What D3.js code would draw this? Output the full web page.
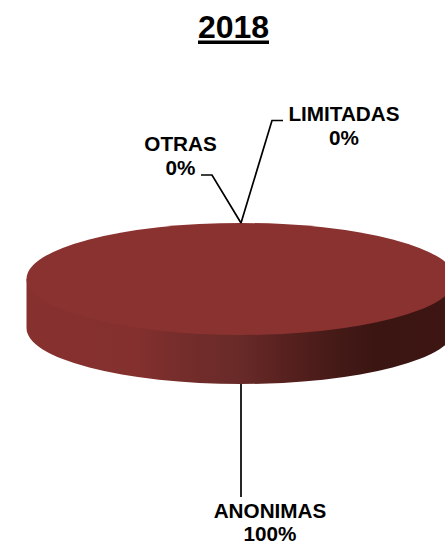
<!DOCTYPE html>
<html>
<head>
<meta charset="utf-8">
<script src="https://cdnjs.cloudflare.com/ajax/libs/d3/7.8.5/d3.min.js"></script>
<style>
  html, body { margin: 0; padding: 0; background: #fff; overflow: hidden; }
  text { font-family: "Liberation Sans", Arial, sans-serif; font-weight: bold; fill: #000; text-anchor: middle; }
  .leader { fill: none; stroke: #000; stroke-width: 1.7; }
</style>
</head>
<body>
<div id="chart"></div>
<script>
var title = "2018";
var categories = ["ANONIMAS", "LIMITADAS", "OTRAS"];
var values = [100, 0, 0];
var percentLabels = ["100%", "0%", "0%"];

var width = 445, height = 542;
var cx = 241, cy = 279, rx = 214.5, ry = 56, depth = 49;

var svg = d3.select("#chart").append("svg")
    .attr("width", width)
    .attr("height", height)
    .style("display", "block");

// side of the disc, dark toward the right
var grad = svg.append("defs").append("linearGradient")
    .attr("id", "side")
    .attr("gradientUnits", "userSpaceOnUse")
    .attr("x1", cx - rx).attr("x2", cx + rx)
    .attr("y1", 0).attr("y2", 0);
[[0, "#87312f"], [0.26, "#83302e"], [0.36, "#752d2b"], [0.5, "#682a28"],
 [0.6, "#58211f"], [0.72, "#451a17"], [0.82, "#3a1512"], [1, "#3e1613"]].forEach(function(s) {
  grad.append("stop").attr("offset", s[0]).attr("stop-color", s[1]);
});

var pie = d3.pie().sort(null).value(function(d) { return d; });
var slices = pie(values);

// d3 pie angles start at 12 o'clock, squash them to the ellipse
function px(a) { return cx + rx * Math.sin(a); }
function py(a) { return cy - ry * Math.cos(a); }

var sidePath = "M" + (cx - rx) + "," + cy +
  "L" + (cx - rx) + "," + (cy + depth) +
  "A" + rx + "," + ry + " 0 0 0 " + (cx + rx) + "," + (cy + depth) +
  "L" + (cx + rx) + "," + cy + "Z";
svg.append("path").attr("d", sidePath).attr("fill", "url(#side)");

// only the slice with a value gets a visible top
svg.selectAll(".slice")
    .data(slices.filter(function(d) { return d.value > 0; }))
  .enter().append("ellipse")
    .attr("class", "slice")
    .attr("cx", cx).attr("cy", cy)
    .attr("rx", rx).attr("ry", ry)
    .attr("fill", "#8a3230");

// label layout: text centre, baselines of both lines, elbow and end of the leader
var labelPos = [
  { x: 270, y: 518, y2: 541, elbow: null, end: [241, 497], bottom: true },
  { x: 344, y: 121, y2: 145, elbow: [272, 120.5], end: [283, 120.5] },
  { x: 180.5, y: 151, y2: 175, elbow: [212, 175], end: [201, 175] }
];

var line = d3.line();
slices.forEach(function(d, i) {
  var mid = (d.startAngle + d.endAngle) / 2;
  var p = labelPos[i];
  var start = [px(mid), py(mid) + (p.bottom ? depth : 0)];
  var pts = p.elbow ? [start, p.elbow, p.end] : [start, p.end];
  svg.append("path").attr("class", "leader").attr("d", line(pts));

  var t = svg.append("text").attr("font-size", 20.7);
  t.append("tspan").attr("x", p.x).attr("y", p.y).text(categories[i]);
  t.append("tspan").attr("x", p.x).attr("y", p.y2).text(percentLabels[i]);
});

svg.append("text")
    .attr("x", 233.5).attr("y", 38)
    .attr("font-size", 32)
    .text(title);
svg.append("rect")
    .attr("x", 198).attr("y", 40.5)
    .attr("width", 71).attr("height", 3.5)
    .attr("fill", "#000");
</script>
</body>
</html>
